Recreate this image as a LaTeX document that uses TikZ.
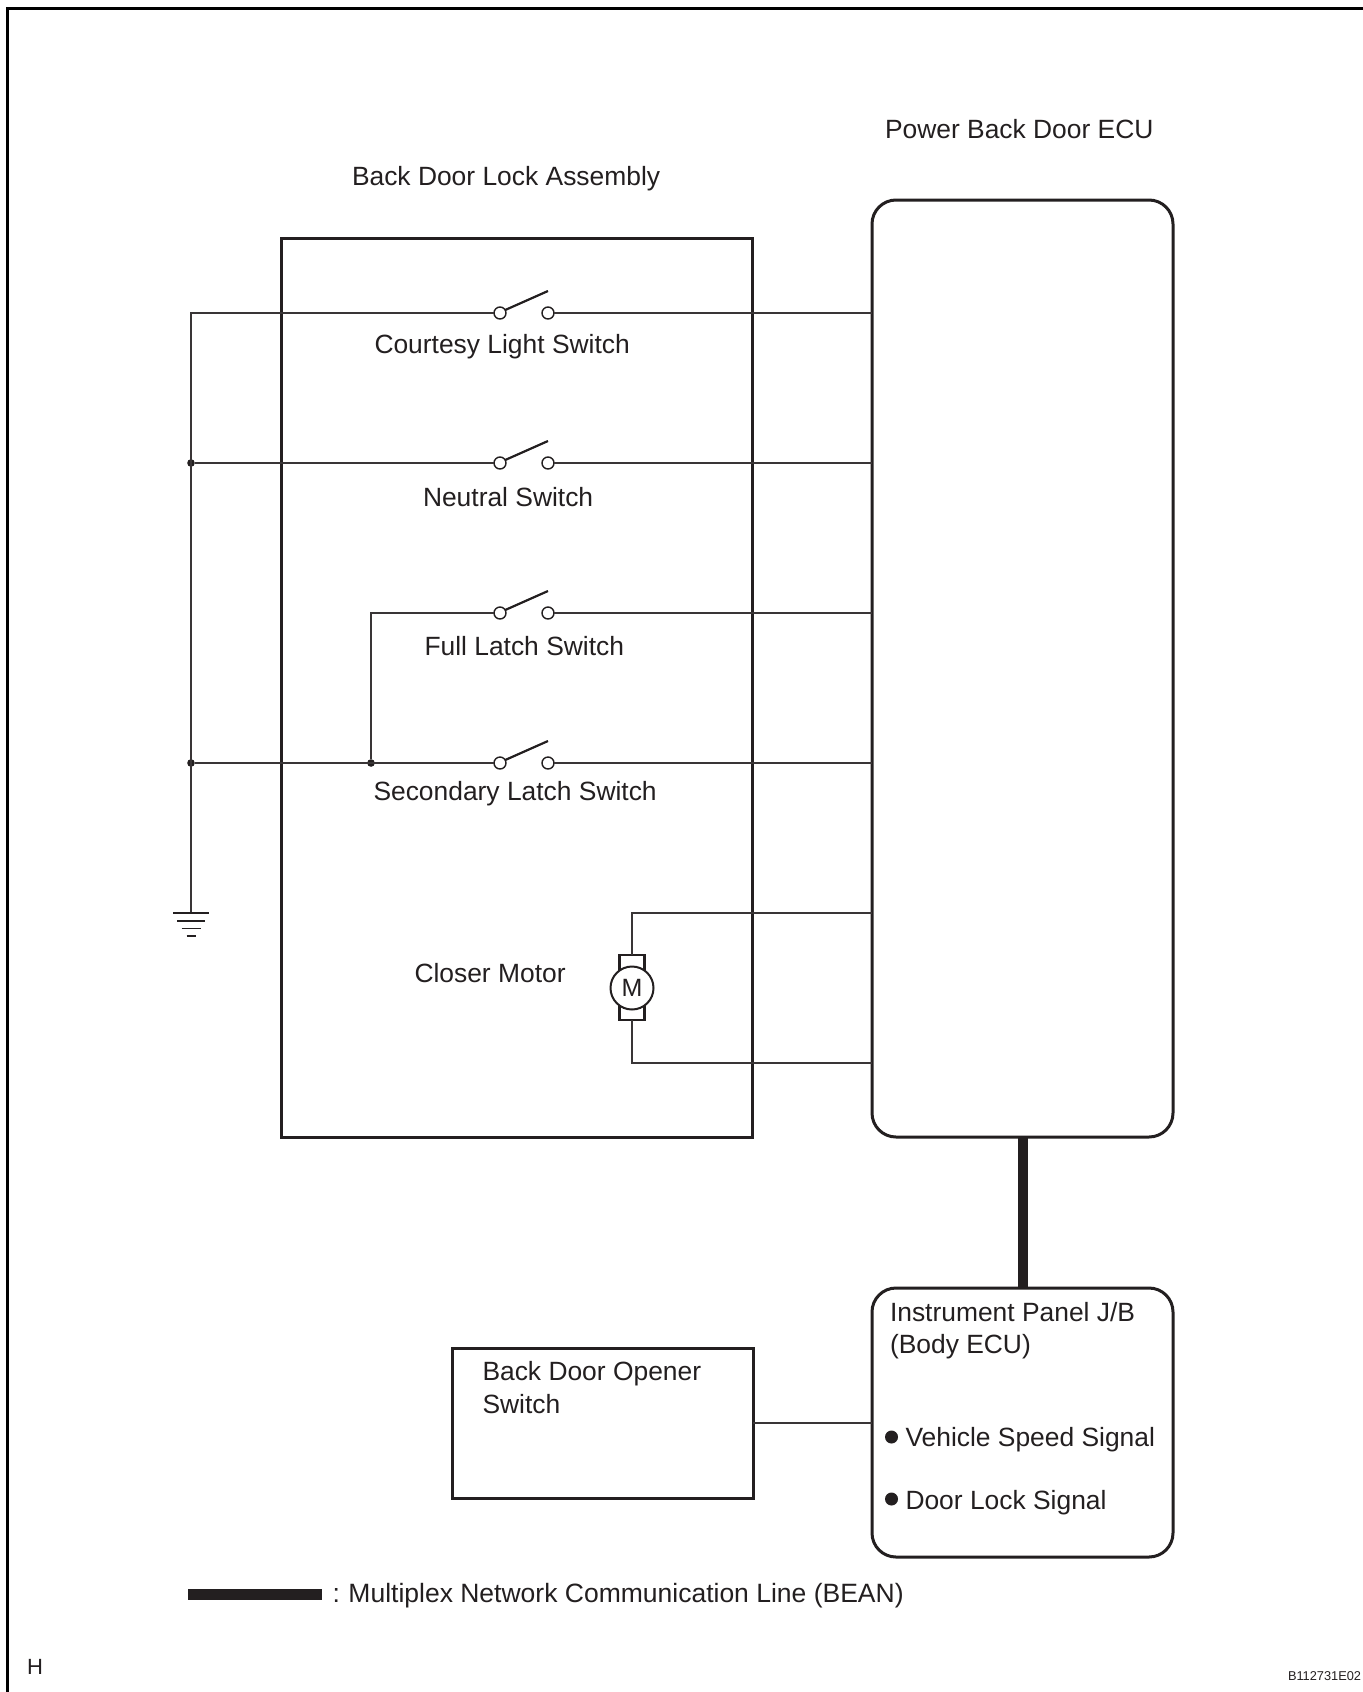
\documentclass[tikz,border=0pt]{standalone}
\usepackage{fontspec}
\setmainfont{Liberation Sans}
\definecolor{ink}{HTML}{231F20}
\tikzset{
  wire/.style={line width=0.75pt,draw=ink!90},
  box/.style={draw=ink,line width=1.5pt,inner sep=0pt,outer sep=0pt,rectangle},
  roundbox/.style={box,rounded corners=12pt},
  lbl/.style={anchor=base west,inner sep=0pt,outer sep=0pt,text=ink,font=\fontsize{13.2}{16}\selectfont},
  term/.style={circle,draw=ink,line width=0.7pt,fill=white,minimum size=6pt,inner sep=0pt,outer sep=0pt},
  lever/.style={draw=ink,line width=1.1pt},
  junction/.style={circle,fill=ink,minimum size=3.8pt,inner sep=0pt,outer sep=0pt},
  bullet/.style={circle,fill=ink,minimum size=6.5pt,inner sep=0pt,outer sep=0pt},
  bean/.style={draw=ink,line width=5pt},
  gndbar/.style={draw=ink,line width=0.7pt}
}
\begin{document}
\begin{tikzpicture}[x=0.5pt,y=-0.5pt]
\useasboundingbox (0,0) rectangle (1362,1692);
\fill[white] (0,0) rectangle (1362,1692);
% page frame
\draw[black,line width=1.5pt] (7,1720) -- (7,8) -- (1400,8);
% boxes
\node[box,minimum width=235.5pt,minimum height=449.5pt] (lock) at (516.5,687.5) {};
\node[roundbox,minimum width=150.5pt,minimum height=468.5pt] (ecu) at (1022.5,668.5) {};
\node[roundbox,minimum width=150.5pt,minimum height=134.5pt] (jb) at (1022.5,1422.5) {};
\node[box,minimum width=150.5pt,minimum height=75pt] (opener) at (602.5,1423) {};
% switches
\foreach \n/\y in {1/313,2/463,3/613,4/763}{
  \node[term] (a\n) at (500,\y) {};
  \node[term] (b\n) at (548,\y) {};
  \coordinate (t\n) at (548,\y-22);
  \draw[lever] (a\n.30) -- (t\n);
  \draw[wire] (b\n) -- (b\n -| ecu.west);
}
% junctions and return wires
\coordinate (c1) at (191,313);
\node[junction] (j2) at (191,463) {};
\node[junction] (j4) at (191,763) {};
\node[junction] (j5) at (371,763) {};
\coordinate (gnd) at (191,913);
\draw[wire] (gnd) -- (c1) -- (a1);
\draw[wire] (j2) -- (a2);
\draw[wire] (j4) -- (a4);
\draw[wire] (j5) |- (a3);
% ground
\draw[gndbar] (gnd) ++(-18,0) -- ++(36,0);
\draw[gndbar] (gnd) ++(-14,8) -- ++(28,0);
\draw[gndbar] (gnd) ++(-9.5,15.5) -- ++(19,0);
\draw[gndbar] (gnd) ++(-4.5,23) -- ++(9,0);
% motor
\node[box,line width=1.1pt,minimum width=12.5pt,minimum height=32.5pt] (brush) at (632,987.5) {};
\node[circle,draw=ink,line width=1pt,fill=white,minimum size=21.5pt,inner sep=0pt,outer sep=0pt,text=ink,font=\fontsize{12.5}{14}\selectfont] (motor) at (632,988) {M};
\coordinate (m1) at (632,913);
\coordinate (m2) at (632,1063);
\draw[wire] (brush.north) |- (m1 -| ecu.west);
\draw[wire] (brush.south) |- (m2 -| ecu.west);
% bus and opener
\draw[bean] (ecu.south) -- (jb.north);
\draw[wire] (opener.east) -- (opener.east -| jb.west);
% bullets
\node[bullet] (d1) at (891.5,1437) {};
\node[bullet] (d2) at (891.5,1499) {};
% legend
\node[fill=ink,minimum width=67pt,minimum height=5.5pt,inner sep=0pt,outer sep=0pt] (legend) at (255,1594) {};
% labels
\node[lbl] (l1) at (885,138) {Power Back Door ECU};
\node[lbl] (l2) at (352,185) {Back Door Lock Assembly};
\node[lbl] (l3) at (374.5,353) {Courtesy Light Switch};
\node[lbl] (l4) at (423,506) {Neutral Switch};
\node[lbl] (l5) at (424.5,655) {Full Latch Switch};
\node[lbl] (l6) at (373.5,800) {Secondary Latch Switch};
\node[lbl] (l7) at (414.5,982) {Closer Motor};
\node[lbl] (l8) at (890,1321) {Instrument Panel J/B};
\node[lbl] (l9) at (890,1353) {(Body ECU)};
\node[lbl] (l10) at (482.5,1380) {Back Door Opener};
\node[lbl] (l11) at (482.5,1413) {Switch};
\node[lbl] (l12) at (905.5,1446) {Vehicle Speed Signal};
\node[lbl] (l13) at (905.5,1509) {Door Lock Signal};
\node[lbl,font=\fontsize{13.25}{16}\selectfont] (l14) at (332.5,1602) {:\hspace{-0.6pt} Multiplex Network Communication Line (BEAN)};
\node[lbl,font=\fontsize{11}{13}\selectfont] (l15) at (27,1674) {H};
\node[lbl,font=\fontsize{6.4}{8}\selectfont] (l16) at (1288,1680) {B112731E02};
\end{tikzpicture}
\end{document}
